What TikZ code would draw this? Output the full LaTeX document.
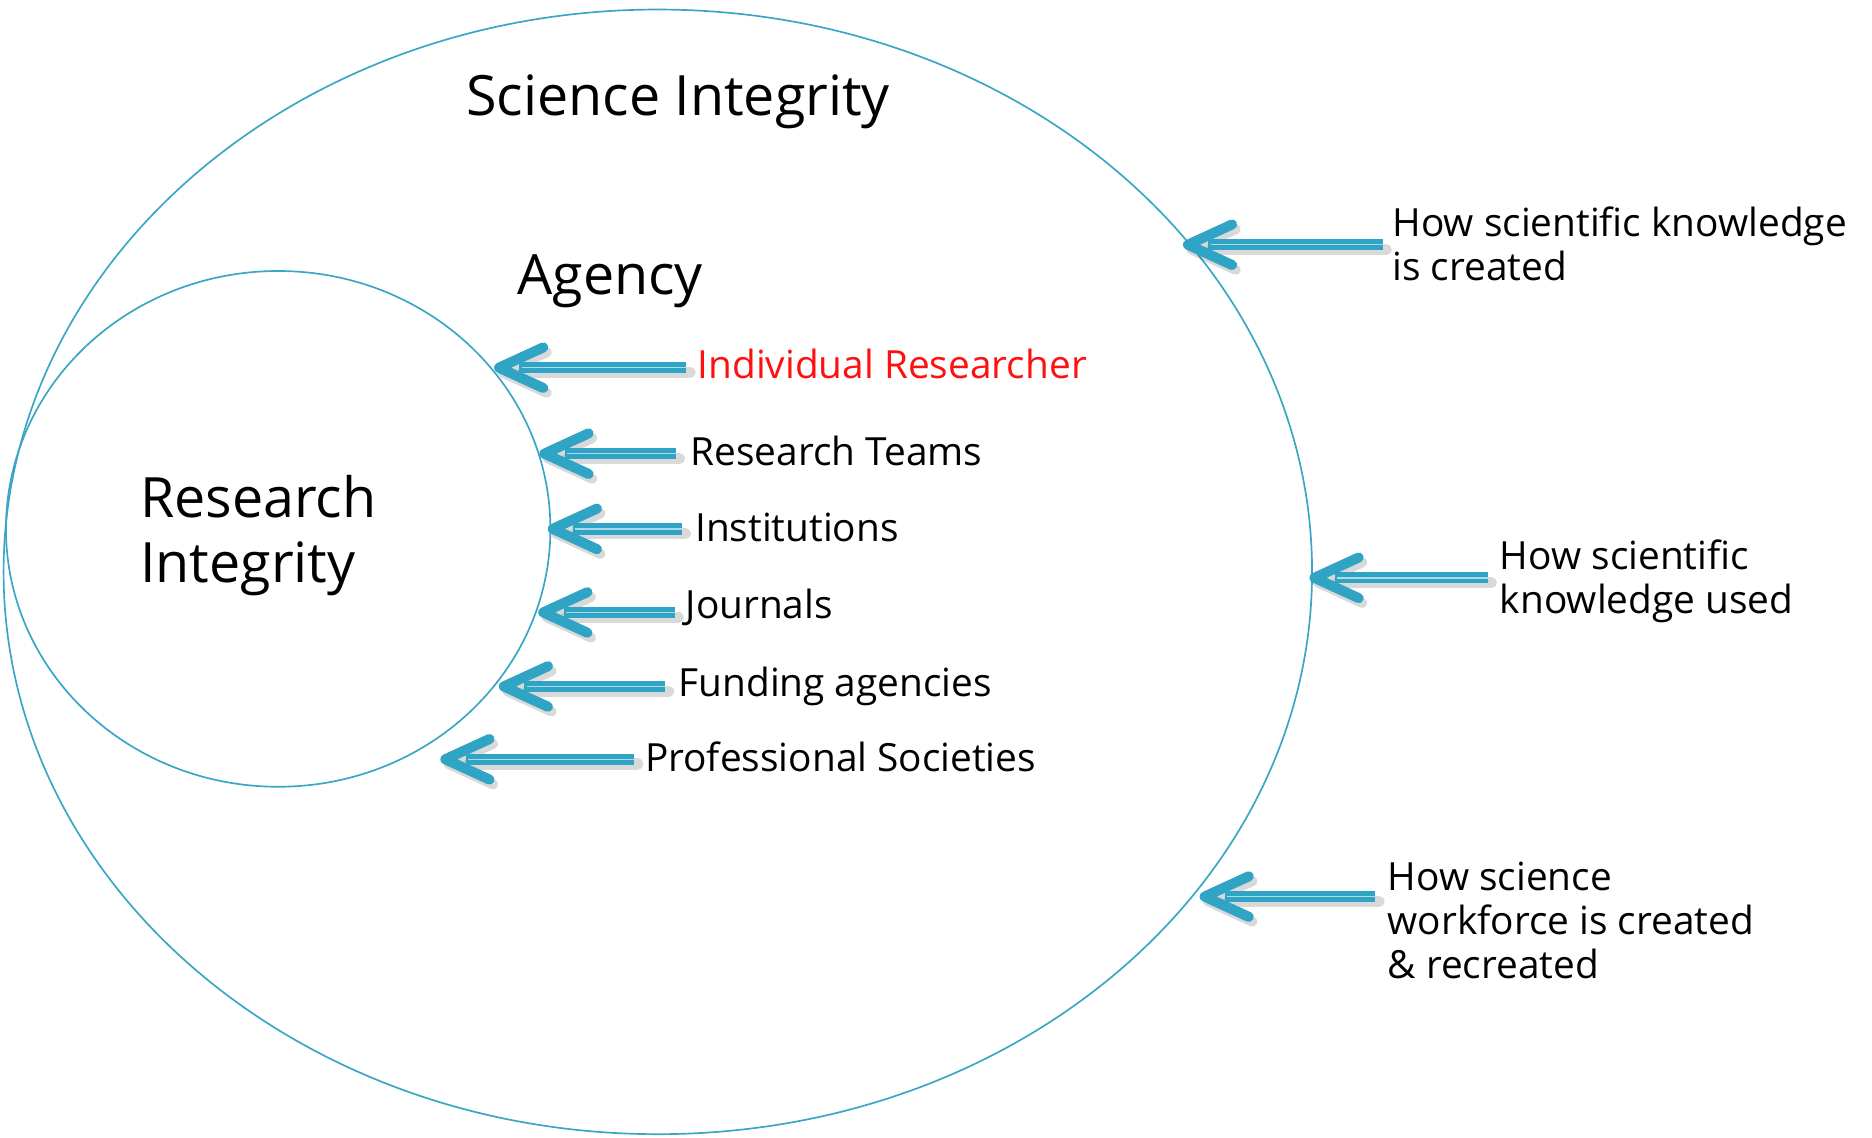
\documentclass[tikz,border=0pt]{standalone}
\usepackage{fontspec}
\setmainfont{Open Sans}
\usetikzlibrary{calc}
\definecolor{tealA}{HTML}{2FA4C4}
\definecolor{ringC}{HTML}{3AA6C6}
\definecolor{redT}{HTML}{FF1010}
\tikzset{
  ring/.style={draw=ringC, line width=0.8pt},
  bigtxt/.style={font=\fontsize{26.5}{31}\selectfont, inner sep=0pt},
  lbl/.style={font=\fontsize{18.5}{21}\selectfont, inner sep=0pt, anchor=west, align=left},
  shaftline/.style={draw=tealA, line width=5.4pt},
  shaftmid/.style={draw=white!60!tealA, line width=0.7pt},
  chev/.style={draw=tealA, line width=4.8pt, line cap=round, line join=round},
  shad/.style={draw=black, opacity=0.15, line cap=round, line join=round},
}
\newcommand{\bluearrow}[2]{%
  \draw[shad, line width=5.4pt] ($(#1)+(3,-4)$) -- ($(#2)+(20,-4)$);
  \draw[shad, line width=4.8pt] ($(#2)+(40,13)$) -- ($(#2)+(3,-4)$) -- ($(#2)+(40,-21)$);
  \draw[shaftline] (#1) -- ($(#2)+(17,0)$);
  \draw[shaftmid] (#1) -- ($(#2)+(19,0)$);
  \draw[chev] ($(#2)+(37,17)$) -- (#2) -- ($(#2)+(37,-17)$);
}
\begin{document}
\begin{tikzpicture}[x=0.02cm,y=0.02cm]
\useasboundingbox (0,0) rectangle (1568,953);
\fill[white] (0,0) rectangle (1568,953);
% ellipses
\draw[ring] (551,474) ellipse [x radius=548, y radius=471];
\draw[ring] (233,510) ellipse [x radius=228, y radius=216];
% big texts
\node[bigtxt] (sci) at (568,868) {Science Integrity};
\node[bigtxt] (agency) at (511,717) {Agency};
\node[bigtxt, anchor=west, align=left] (ri) at (117,504) {Research\\Integrity};
% labels
\node[lbl, text=redT] (l1) at (584,648) {Individual Researcher};
\node[lbl] (l2) at (578,575) {Research Teams};
\node[lbl] (l3) at (582,511) {Institutions};
\node[lbl] (l4) at (574,444) {Journals};
\node[lbl] (l5) at (568,378) {Funding agencies};
\node[lbl] (l6) at (540,319) {Professional Societies};
\node[lbl] (r1) at (1166,749) {How scientific knowledge\\is created};
\node[lbl] (r2) at (1256,466) {How scientific\\knowledge used};
\node[lbl] (r3) at (1162,182) {How science\\workforce is created\\\& recreated};
% arrow coordinates
\coordinate (t1) at (418,645); \coordinate (s1) at (575,645);
\coordinate (t2) at (456,573); \coordinate (s2) at (566,573);
\coordinate (t3) at (463,510); \coordinate (s3) at (571,510);
\coordinate (t4) at (455,440); \coordinate (s4) at (565,440);
\coordinate (t5) at (422,378); \coordinate (s5) at (557,378);
\coordinate (t6) at (373,317); \coordinate (s6) at (531,317);
\coordinate (t7) at (995,748); \coordinate (s7) at (1158,748);
\coordinate (t8) at (1101,469); \coordinate (s8) at (1246,469);
\coordinate (t9) at (1009,202); \coordinate (s9) at (1152,202);
\bluearrow{s1}{t1}
\bluearrow{s2}{t2}
\bluearrow{s3}{t3}
\bluearrow{s4}{t4}
\bluearrow{s5}{t5}
\bluearrow{s6}{t6}
\bluearrow{s7}{t7}
\bluearrow{s8}{t8}
\bluearrow{s9}{t9}
\end{tikzpicture}
\end{document}
